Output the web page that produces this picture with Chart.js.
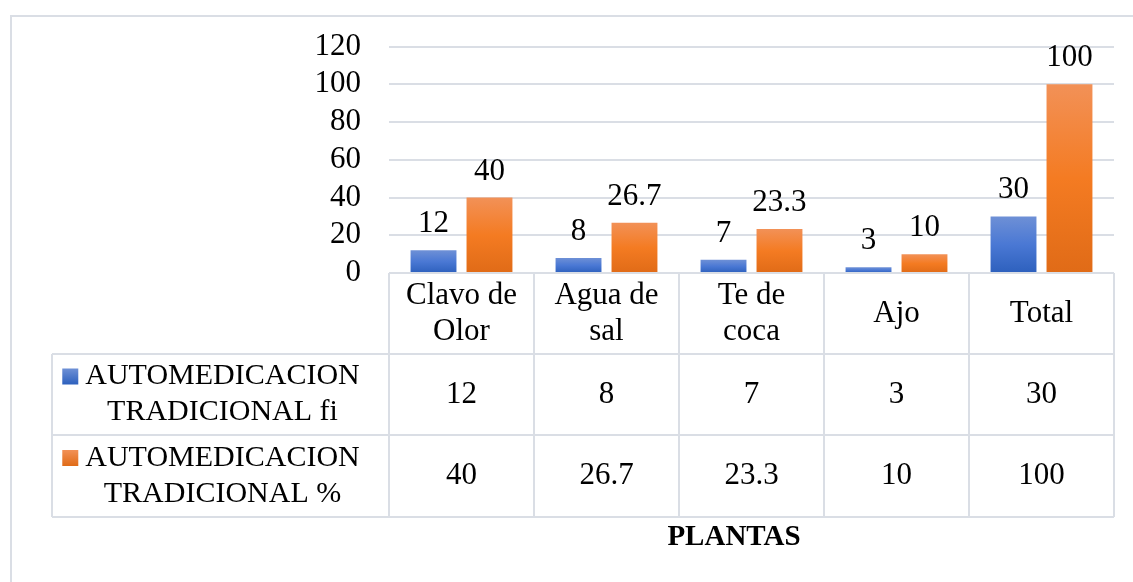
<!DOCTYPE html>
<html>
<head>
<meta charset="utf-8">
<script src="https://cdn.jsdelivr.net/npm/chart.js@4.4.1/dist/chart.umd.min.js"></script>
<style>
  html, body { margin: 0; padding: 0; background: #fff; }
  #wrap { width: 1133px; height: 582px; position: relative; }
</style>
</head>
<body>
<div id="wrap"><canvas id="grafico"></canvas></div>
<script>
// datos del grafico
var categorias = [["Clavo de", "Olor"], ["Agua de", "sal"], ["Te de", "coca"], ["Ajo"], ["Total"]]
var serieFi = [12, 8, 7, 3, 30]
var seriePct = [40, 26.7, 23.3, 10, 100]
var nombresSeries = [["AUTOMEDICACION", "TRADICIONAL fi"], ["AUTOMEDICACION", "TRADICIONAL %"]]
var ticksY = [0, 20, 40, 60, 80, 100, 120]
var tituloX = "PLANTAS"

var FUENTE = "'Liberation Serif', 'Times New Roman', serif"
var LINEA = "#dadee5"

var degradados = [
  ["#6e90d6", "#4a78d4", "#2d60bd"],
  ["#f29157", "#f47b22", "#e06b17"]
]

function relleno(idx){
  return function(ctx){
    var chart = ctx.chart
    var cols = degradados[idx]
    if (!chart.chartArea || ctx.type !== "data") return cols[1]
    var y = chart.scales.y
    var top = y.getPixelForValue(ctx.raw)
    var base = y.getPixelForValue(0)
    if (base - top < 1) return cols[1]
    var g = chart.ctx.createLinearGradient(0, top, 0, base)
    g.addColorStop(0, cols[0])
    g.addColorStop(0.5, cols[1])
    g.addColorStop(1, cols[2])
    return g
  }
}

// fondo y marco exterior
var fondo = {
  id: "fondo",
  beforeDraw: function(chart){
    var c = chart.ctx
    c.save()
    c.fillStyle = "#fff"
    c.fillRect(0, 0, chart.width, chart.height)
    c.strokeStyle = LINEA
    c.lineWidth = 2
    c.beginPath()
    c.moveTo(11, chart.height + 5)
    c.lineTo(11, 16)
    c.lineTo(chart.width + 5, 16)
    c.stroke()
    c.restore()
  }
}

// etiquetas encima de las barras
var etiquetas = {
  id: "etiquetas",
  afterDatasetsDraw: function(chart){
    var c = chart.ctx
    c.save()
    c.font = "31px " + FUENTE
    c.fillStyle = "#000"
    c.textAlign = "center"
    c.textBaseline = "alphabetic"
    chart.data.datasets.forEach(function(ds, i){
      chart.getDatasetMeta(i).data.forEach(function(bar, j){
        c.fillText(String(ds.data[j]), bar.x, bar.y - 18)
      })
    })
    c.restore()
  }
}

// tabla de datos bajo el eje X
var tabla = {
  id: "tabla",
  afterDraw: function(chart){
    var c = chart.ctx
    var xs = chart.scales.x
    var area = chart.chartArea
    var n = categorias.length
    var ancho = (area.right - area.left) / n
    var y0 = area.bottom
    var y1 = y0 + 81
    var y2 = y1 + 81
    var y3 = y2 + 82
    var izq = 52
    c.save()
    c.strokeStyle = LINEA
    c.lineWidth = 2
    c.beginPath()
    // horizontales
    c.moveTo(area.left, y0); c.lineTo(area.right, y0)
    ;[y1, y2, y3].forEach(function(yy){ c.moveTo(izq, yy); c.lineTo(area.right, yy) })
    // verticales
    for (var k = 0; k <= n; k++){
      var xx = area.left + k * ancho
      c.moveTo(xx, y0); c.lineTo(xx, y3)
    }
    c.moveTo(izq, y1); c.lineTo(izq, y3)
    c.stroke()

    c.fillStyle = "#000"
    c.font = "31px " + FUENTE
    c.textAlign = "center"
    c.textBaseline = "middle"
    var lh = 36
    // categorias
    categorias.forEach(function(lab, j){
      var cx = xs.getPixelForValue(j)
      var cy = (y0 + y1) / 2
      lab.forEach(function(t, k){
        c.fillText(t, cx, cy + (k - (lab.length - 1) / 2) * lh)
      })
    })
    // filas de la tabla
    var filas = [serieFi, seriePct]
    var tops = [y1, y2]
    var bots = [y2, y3]
    filas.forEach(function(vals, r){
      var cy = (tops[r] + bots[r]) / 2
      c.font = "31px " + FUENTE
      vals.forEach(function(v, j){
        c.fillText(String(v), xs.getPixelForValue(j), cy)
      })
      c.font = "30px " + FUENTE
      var cx = (izq + area.left) / 2 + 2
      var nom = nombresSeries[r]
      nom.forEach(function(t, k){
        c.fillText(t, cx, cy + (k - 0.5) * lh)
      })
      var w0 = c.measureText(nom[0]).width
      var g = c.createLinearGradient(0, cy - 26, 0, cy - 10)
      g.addColorStop(0, degradados[r][0])
      g.addColorStop(1, degradados[r][2])
      c.fillStyle = g
      c.fillRect(cx - w0 / 2 - 23, cy - 26, 16, 16)
      c.fillStyle = "#000"
    })
    // titulo eje X
    c.font = "bold 29px " + FUENTE
    c.fillText(tituloX, 734, y3 + 21)
    c.restore()
  }
}

new Chart(document.getElementById("grafico"), {
  type: "bar",
  data: {
    labels: categorias,
    datasets: [{
      label: nombresSeries[0].join(" "),
      data: serieFi,
      backgroundColor: relleno(0),
      categoryPercentage: 0.772,
      barPercentage: 0.82
    }, {
      label: nombresSeries[1].join(" "),
      data: seriePct,
      backgroundColor: relleno(1),
      categoryPercentage: 0.772,
      barPercentage: 0.82
    }]
  },
  options: {
    responsive: true,
    maintainAspectRatio: false,
    animation: false,
    layout: { padding: { top: 46, right: 19, bottom: 0, left: 0 } },
    plugins: {
      legend: { display: false },
      tooltip: { enabled: false },
      title: { display: false }
    },
    scales: {
      x: {
        ticks: { display: false },
        grid: { display: false },
        border: { display: false },
        afterFit: function(s){ s.height = 309 }
      },
      y: {
        min: 0,
        max: 120,
        afterBuildTicks: function(s){ s.ticks = ticksY.map(function(v){ return { value: v } }) },
        ticks: {
          color: "#000",
          padding: 28,
          autoSkip: false,
          font: { family: FUENTE, size: 31 }
        },
        grid: { color: LINEA, lineWidth: 2, drawTicks: false },
        border: { display: false },
        afterFit: function(s){ s.width = 389 }
      }
    }
  },
  plugins: [fondo, etiquetas, tabla]
})
</script>
</body>
</html>
